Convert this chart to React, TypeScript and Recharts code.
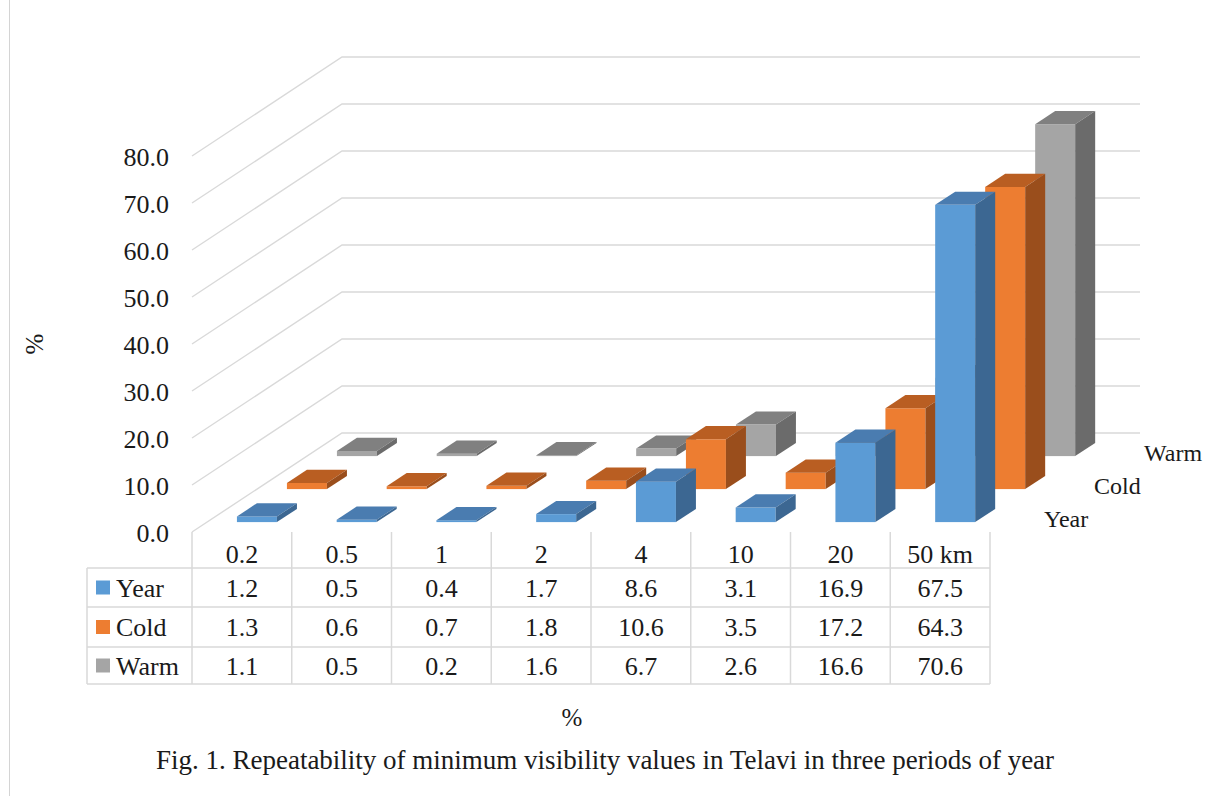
import React from 'react';
import { BarChart, Bar, XAxis, YAxis, CartesianGrid } from 'recharts';

const categories = ['0.2', '0.5', '1', '2', '4', '10', '20', '50 km'];
const yearValues = [1.2, 0.5, 0.4, 1.7, 8.6, 3.1, 16.9, 67.5];
const coldValues = [1.3, 0.6, 0.7, 1.8, 10.6, 3.5, 17.2, 64.3];
const warmValues = [1.1, 0.5, 0.2, 1.6, 6.7, 2.6, 16.6, 70.6];
const seriesNames = ['Year', 'Cold', 'Warm'];
const yTicks = [0, 10, 20, 30, 40, 50, 60, 70, 80];
const captionText = 'Fig. 1. Repeatability of minimum visibility values in Telavi in three periods of year';

const SERIES = [
  { key: 'year', name: seriesNames[0], values: yearValues, front: '#5b9bd5', top: '#4a7cb0', side: '#3c6792', depth: 0, axis: 'ay' },
  { key: 'cold', name: seriesNames[1], values: coldValues, front: '#ed7d31', top: '#b95e22', side: '#9a4e1c', depth: 1, axis: 'ac' },
  { key: 'warm', name: seriesNames[2], values: warmValues, front: '#a5a5a5', top: '#808080', side: '#6b6b6b', depth: 2, axis: 'aw' },
];

const data = categories.map((c, i) => ({ cat: c, year: yearValues[i], cold: coldValues[i], warm: warmValues[i] }));

const W = 1228;
const H = 796;
const Y_AXIS_W = 60;
const X_AXIS_H = 30;
const MARGIN = { top: 156, right: 238, bottom: 264 - X_AXIS_H, left: 192 - Y_AXIS_W };
const PLOT_L = MARGIN.left + Y_AXIS_W;
const PLOT_R = W - MARGIN.right;
const PLOT_B = H - MARGIN.bottom - X_AXIS_H;
const BAND = (PLOT_R - PLOT_L) / categories.length;
const DX = 150;
const DY = 99;
const ROW_DX = DX / 3;
const ROW_DY = DY / 3;
const BAR_FRONT = 0.3;
const BAR_BACK = 0.7;
const GRID = '#d9d9d9';
const FONT = '"Liberation Serif", "Times New Roman", serif';
const TXT = '#1a1a1a';
const TABLE_FS = 26;

const TABLE_L = 87;
const ROW_LINES = [PLOT_B + 36, PLOT_B + 75, PLOT_B + 115, PLOT_B + 152];
const ROW_CENTERS = [PLOT_B + 22, PLOT_B + 55.5, PLOT_B + 95, PLOT_B + 133.5];

const make3DShape = (s: any) => (props: any) => {
  const { x, y, width, height } = props;
  if (x == null || width == null) return <g />;
  const ox = ROW_DX * (s.depth + BAR_FRONT);
  const oy = -ROW_DY * (s.depth + BAR_FRONT);
  const dx = ROW_DX * (BAR_BACK - BAR_FRONT);
  const dy = ROW_DY * (BAR_BACK - BAR_FRONT);
  const h = Math.max(height, 0);
  const fx = x + ox;
  const fy = y + oy;
  const top = `${fx},${fy} ${fx + dx},${fy - dy} ${fx + width + dx},${fy - dy} ${fx + width},${fy}`;
  const side = `${fx + width},${fy} ${fx + width + dx},${fy - dy} ${fx + width + dx},${fy + h - dy} ${fx + width},${fy + h}`;
  return (
    <g>
      <rect x={fx} y={fy} width={width} height={h} fill={s.front} />
      <polygon points={top} fill={s.top} />
      <polygon points={side} fill={s.side} />
    </g>
  );
};

const gridLine = (p: any) => {
  const d = `M${p.x1},${p.y1}L${p.x1 + DX},${p.y1 - DY}L${p.x2 + DX},${p.y2 - DY}`;
  return <path key={`g${p.index}-${p.y1}`} d={d} stroke={GRID} strokeWidth={1.4} fill="none" />;
};

const renderYTick = (p: any) => {
  const val = p.payload ? p.payload.value : 0;
  return (
    <text key={`yt${val}`} x={PLOT_L - 23} y={p.y + 10} textAnchor="end" fontFamily={FONT} fontSize={26} fill={TXT}>
      {Number(val).toFixed(1)}
    </text>
  );
};

const renderXTick = (p: any) => {
  const idx = p.index;
  const cx = p.x;
  const right = cx + BAND / 2;
  const left = cx - BAND / 2;
  const isLast = idx === categories.length - 1;
  return (
    <g key={`xt${idx}`}>
      {idx === 0 && (
        <g>
          <line x1={left} y1={PLOT_B} x2={left} y2={ROW_LINES[3]} stroke={GRID} strokeWidth={1.5} />
          <line x1={TABLE_L} y1={ROW_LINES[0]} x2={TABLE_L} y2={ROW_LINES[3]} stroke={GRID} strokeWidth={1.5} />
          {ROW_LINES.map((ry, k) => (
            <line key={k} x1={TABLE_L} y1={ry} x2={PLOT_R} y2={ry} stroke={GRID} strokeWidth={1.5} />
          ))}
          {SERIES.map((s, k) => (
            <g key={s.key}>
              <rect x={TABLE_L + 9} y={ROW_CENTERS[k + 1] - 7} width={14} height={14} fill={s.front} />
              <text x={TABLE_L + 29} y={ROW_CENTERS[k + 1] + 9} fontFamily={FONT} fontSize={TABLE_FS} fill={TXT}>
                {s.name}
              </text>
            </g>
          ))}
        </g>
      )}
      <line x1={right} y1={PLOT_B} x2={right} y2={ROW_LINES[3]} stroke={GRID} strokeWidth={1.5} />
      <text x={cx} y={ROW_CENTERS[0] + 9} textAnchor="middle" fontFamily={FONT} fontSize={TABLE_FS} fill={TXT}>
        {p.payload ? p.payload.value : ''}
      </text>
      {SERIES.map((s, k) => (
        <text key={s.key} x={cx} y={ROW_CENTERS[k + 1] + 9} textAnchor="middle" fontFamily={FONT} fontSize={TABLE_FS} fill={TXT}>
          {s.values[idx].toFixed(1)}
        </text>
      ))}
      {isLast &&
        SERIES.map((s) => (
          <text
            key={'d' + s.key}
            x={right + ROW_DX * (s.depth + 0.5) + 29}
            y={PLOT_B - ROW_DY * (s.depth + 0.5) + 11}
            fontFamily={FONT}
            fontSize={24}
            fill={TXT}
          >
            {s.name}
          </text>
        ))}
    </g>
  );
};

export default function App() {
  const ordered = [...SERIES].reverse();
  return (
    <div style={{ position: 'absolute', left: 0, top: 0, width: W, height: H, background: '#fff', overflow: 'hidden' }}>
      <div style={{ position: 'absolute', left: 9, top: 0, width: 0, height: H, borderLeft: '1.5px solid #d4d4d4' }} />
      <BarChart width={W} height={H} data={data} margin={MARGIN} barCategoryGap="30%">
        <XAxis xAxisId="ay" dataKey="cat" height={X_AXIS_H} axisLine={false} tickLine={false} interval={0} tick={renderXTick} />
        <XAxis xAxisId="ac" dataKey="cat" hide />
        <XAxis xAxisId="aw" dataKey="cat" hide />
        <YAxis width={Y_AXIS_W} domain={[0, 80]} ticks={yTicks} axisLine={false} tickLine={false} interval={0} tick={renderYTick} />
        <CartesianGrid xAxisId="ay" vertical={false} horizontal={gridLine} />
        {ordered.map((s) => (
          <Bar key={s.key} dataKey={s.key} xAxisId={s.axis} shape={make3DShape(s)} isAnimationActive={false} />
        ))}
      </BarChart>
      <div
        style={{
          position: 'absolute',
          left: 35,
          top: 344,
          transform: 'translate(-50%, -50%) rotate(-90deg)',
          fontFamily: FONT,
          fontSize: 25,
          color: TXT,
          whiteSpace: 'nowrap',
        }}
      >
        %
      </div>
      <div
        style={{
          position: 'absolute',
          left: 572,
          top: 718,
          transform: 'translate(-50%, -50%)',
          fontFamily: FONT,
          fontSize: 25,
          color: TXT,
          whiteSpace: 'nowrap',
        }}
      >
        %
      </div>
      <div
        style={{
          position: 'absolute',
          left: 605,
          top: 760,
          transform: 'translate(-50%, -50%)',
          fontFamily: FONT,
          fontSize: 27,
          color: TXT,
          whiteSpace: 'nowrap',
        }}
      >
        {captionText}
      </div>
    </div>
  );
}
